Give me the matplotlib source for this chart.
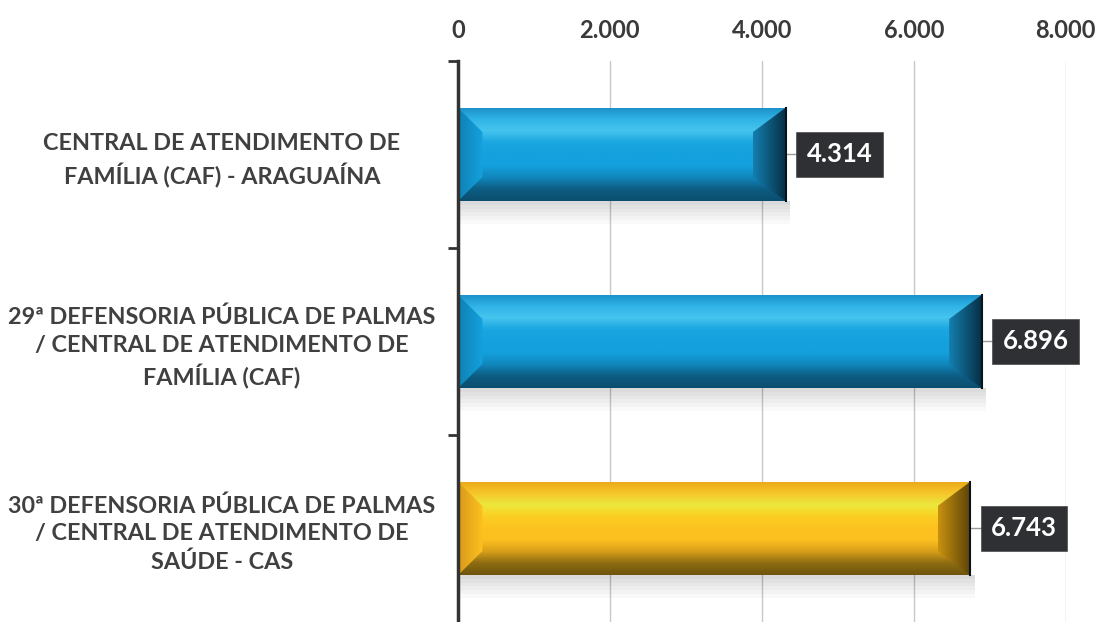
import numpy as np
import matplotlib.pyplot as plt
from matplotlib.patches import Polygon, Rectangle
from matplotlib.colors import LinearSegmentedColormap
from matplotlib.ticker import FuncFormatter, FixedLocator

# Dados do gráfico
categorias = [
    'CENTRAL DE ATENDIMENTO DE\nFAMÍLIA (CAF) - ARAGUAÍNA',
    '29ª DEFENSORIA PÚBLICA DE PALMAS\n/ CENTRAL DE ATENDIMENTO DE\nFAMÍLIA (CAF)',
    '30ª DEFENSORIA PÚBLICA DE PALMAS\n/ CENTRAL DE ATENDIMENTO DE\nSAÚDE - CAS',
]
valores = [4314, 6896, 6743]
ticks_x = [0, 2000, 4000, 6000, 8000]

# gradientes verticais (de cima para baixo) e cores dos chanfros laterais
azul = dict(vert=['#1a8fc6', '#2fb3e6', '#46c4ee', '#1aa6e0', '#14a2de', '#14a0dc', '#1186bb', '#0d5c82', '#0b4d6e'],
            right=['#137fb0', '#072f44'], left=['#0f80b4', '#14a2de'])
amarelo = dict(vert=['#e9a818', '#f6c52a', '#ece83c', '#fbcf22', '#fdc21f', '#fcc01f', '#d89e1a', '#8c6c12', '#6e540c'],
               right=['#c9920f', '#5a4208'], left=['#d8981a', '#fdc21f'])
cores = [azul, azul, amarelo]

plt.rcParams['font.family'] = ['Lato', 'DejaVu Sans']

fig = plt.figure(figsize=(10.99, 6.22), dpi=100)
ax = fig.add_axes([0.4167, 0.0, 0.553, 0.902])

y = np.arange(len(categorias))
altura = 0.5
ax.set_xlim(0, 8000)
ax.set_ylim(2.5, -0.5)

# grade vertical
for t in ticks_x[1:]:
    ax.axvline(t, color='#c8c8c8', lw=1, zorder=0)

bars = ax.barh(y, valores, height=altura, color=[c['vert'][4] for c in cores], zorder=2)


def gradiente(ax, cols, extent, clip, horizontal=False, z=3):
    cmap = LinearSegmentedColormap.from_list('g', cols)
    g = np.linspace(0, 1, 256)
    img = g[np.newaxis, :] if horizontal else g[:, np.newaxis]
    im = ax.imshow(img, cmap=cmap, extent=extent, origin='upper' if not horizontal else 'lower',
                   aspect='auto', interpolation='bicubic', zorder=z)
    im.set_clip_path(clip)
    return im


bx = 430   # largura do chanfro (unidades de dado)
by = 0.13  # altura do chanfro
for rect, c in zip(bars, cores):
    x0, x1 = rect.get_x(), rect.get_x() + rect.get_width()
    yt, yb = rect.get_y(), rect.get_y() + rect.get_height()  # yt = topo (eixo invertido)
    # sombra suave abaixo da barra
    for k in range(6):
        ax.add_patch(Rectangle((x0, yb), x1 - x0 + 60, 0.02 + k * 0.02,
                               color='#000000', alpha=0.025, lw=0, zorder=1))
    # face com gradiente vertical
    clip = Rectangle((x0, yt), x1 - x0, yb - yt, transform=ax.transData, fc='none', ec='none')
    ax.add_patch(clip)
    gradiente(ax, c['vert'], (x0, x1, yb, yt), clip)
    # chanfro direito
    pr = Polygon([(x1, yt), (x1 - bx, yt + by), (x1 - bx, yb - by), (x1, yb)],
                 closed=True, fc='none', ec='none', transform=ax.transData)
    ax.add_patch(pr)
    gradiente(ax, c['right'], (x1 - bx, x1, yb, yt), pr, horizontal=True, z=4)
    # chanfro esquerdo
    pl = Polygon([(x0, yt), (x0 + bx * 0.75, yt + by), (x0 + bx * 0.75, yb - by), (x0, yb)],
                 closed=True, fc='none', ec='none', transform=ax.transData)
    ax.add_patch(pl)
    gradiente(ax, c['left'], (x0, x0 + bx * 0.75, yb, yt), pl, horizontal=True, z=4)
    # borda escura à direita
    ax.plot([x1, x1], [yt, yb], color='#06141c', lw=1.5, zorder=5)

ax.set_xlim(0, 8000)
ax.set_ylim(2.5, -0.5)

# rótulos de valor
for yi, v in zip(y, valores):
    ax.plot([v, v + 200], [yi, yi], color='#9a9a9a', lw=1, zorder=1)
    ax.annotate(f'{v:,}'.replace(',', '.'), xy=(v, yi), xytext=(15, 0),
                textcoords='offset points', ha='left', va='center',
                fontsize=18.5, fontweight='bold', color='white', zorder=7,
                bbox=dict(boxstyle='square,pad=0.4', fc='#2e3033', ec='#4a4a4a', lw=0.5))

# eixo x no topo
ax.xaxis.tick_top()
ax.xaxis.set_major_locator(FixedLocator(ticks_x))
ax.xaxis.set_major_formatter(FuncFormatter(lambda v, p: f'{int(v):,}'.replace(',', '.')))
ax.tick_params(axis='x', length=0, pad=14, labelsize=17, labelcolor='#3a3a3a')
for lab in ax.get_xticklabels():
    lab.set_fontweight('bold')

# eixo y
ax.set_yticks(y)
ax.set_yticklabels(categorias, ha='center', multialignment='center',
                   fontsize=16.8, fontweight='bold', color='#404040', linespacing=1.4)
ax.tick_params(axis='y', which='major', length=0, pad=170)
ax.set_yticks([-0.5, 0.5, 1.5], minor=True)
ax.tick_params(axis='y', which='minor', length=7, width=2, color='#333333')

for s in ['top', 'right', 'bottom']:
    ax.spines[s].set_visible(False)
ax.spines['left'].set_color('#333333')
ax.spines['left'].set_linewidth(2.5)
ax.spines['left'].set_zorder(6)

fig.savefig('out.png', dpi=100)
